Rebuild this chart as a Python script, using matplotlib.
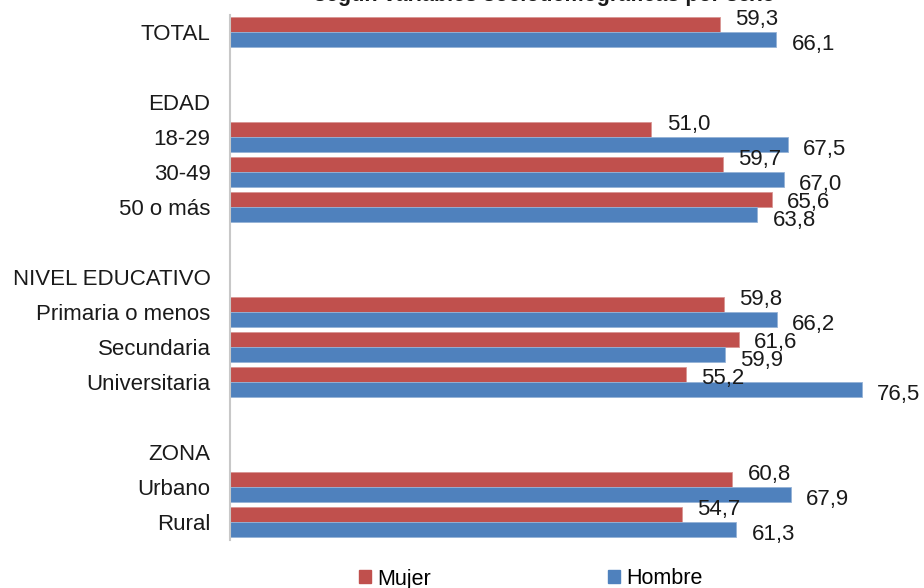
import matplotlib
matplotlib.use("Agg")
import matplotlib.pyplot as plt
from matplotlib.patches import Patch
import numpy as np

plt.rcParams['font.family'] = ['Liberation Sans', 'DejaVu Sans']

# rows from top to bottom; None = header row without bars
categories = ['TOTAL', '', 'EDAD', '18-29', '30-49', '50 o más', '',
              'NIVEL EDUCATIVO', 'Primaria o menos', 'Secundaria', 'Universitaria', '',
              'ZONA', 'Urbano', 'Rural']
mujer = [59.3, None, None, 51.0, 59.7, 65.6, None,
         None, 59.8, 61.6, 55.2, None,
         None, 60.8, 54.7]
hombre = [66.1, None, None, 67.5, 67.0, 63.8, None,
          None, 66.2, 59.9, 76.5, None,
          None, 67.9, 61.3]
series_names = ['Mujer', 'Hombre']

RED = '#C0504D'
BLUE = '#4F81BD'

fig = plt.figure(figsize=(9.24, 5.88), dpi=100)
ax = fig.add_axes([230/924, 1 - 539.5/588, 1 - 230/924, (539.5 - 14.5)/588])

y = np.arange(len(categories))
bh = 0.42
labels = []
for i, (m, h) in enumerate(zip(mujer, hombre)):
    if m is None:
        continue
    ax.barh(i - bh/2, m, height=bh, color=RED, edgecolor='#D99694', linewidth=0.6)
    ax.barh(i + bh/2, h, height=bh, color=BLUE, edgecolor='#95B3D7', linewidth=0.6)
    labels.append(ax.annotate(f"{m:.1f}".replace('.', ','), (m, i - bh/2), xytext=(11, 3.8),
                              textcoords='offset points', ha='left', va='center',
                              fontsize=16, color='#1a1a1a'))
    labels.append(ax.annotate(f"{h:.1f}".replace('.', ','), (h, i + bh/2), xytext=(11, -3.8),
                              textcoords='offset points', ha='left', va='center',
                              fontsize=16, color='#1a1a1a'))

ax.set_ylim(len(categories) - 0.5, -0.5)
ax.set_xlim(0, 84)
ax.set_yticks(y)
ax.set_yticklabels(categories, fontsize=16, color='#1a1a1a')
ax.tick_params(axis='y', length=0, pad=14)
ax.set_xticks([])
for s in ['top', 'right', 'bottom']:
    ax.spines[s].set_visible(False)
ax.spines['left'].set_color('#C8C8C8')
ax.spines['left'].set_linewidth(1.5)

# push a value label down when it runs into the one above it
renderer = fig.canvas.get_renderer()
tol = 3  # px of bbox overlap allowed (bbox includes descender space)
for prev, cur in zip(labels[:-1], labels[1:]):
    bp = prev.get_window_extent(renderer)
    bc = cur.get_window_extent(renderer)
    if bc.x0 < bp.x1 and bc.x1 > bp.x0:
        overlap = bc.y1 - bp.y0
        if overlap > tol:
            dx, dy = cur.xyann
            cur.xyann = (dx, dy - (overlap - tol) * 72 / fig.dpi)

fig.text(545/924, 1 - 1/588, 'según variables sociodemográficas por sexo',
         ha='center', va='baseline', fontsize=15.5, fontweight='bold', color='#1a1a1a')

handles = [Patch(color=RED), Patch(color=BLUE)]
fig.legend(handles, series_names, loc='center', bbox_to_anchor=(531/924, 1 - 579/588),
           ncol=2, frameon=False, fontsize=15.5, handlelength=0.55, handleheight=0.55,
           handletextpad=0.3, columnspacing=8.2, borderpad=0)

fig.savefig('out.png', dpi=100)
